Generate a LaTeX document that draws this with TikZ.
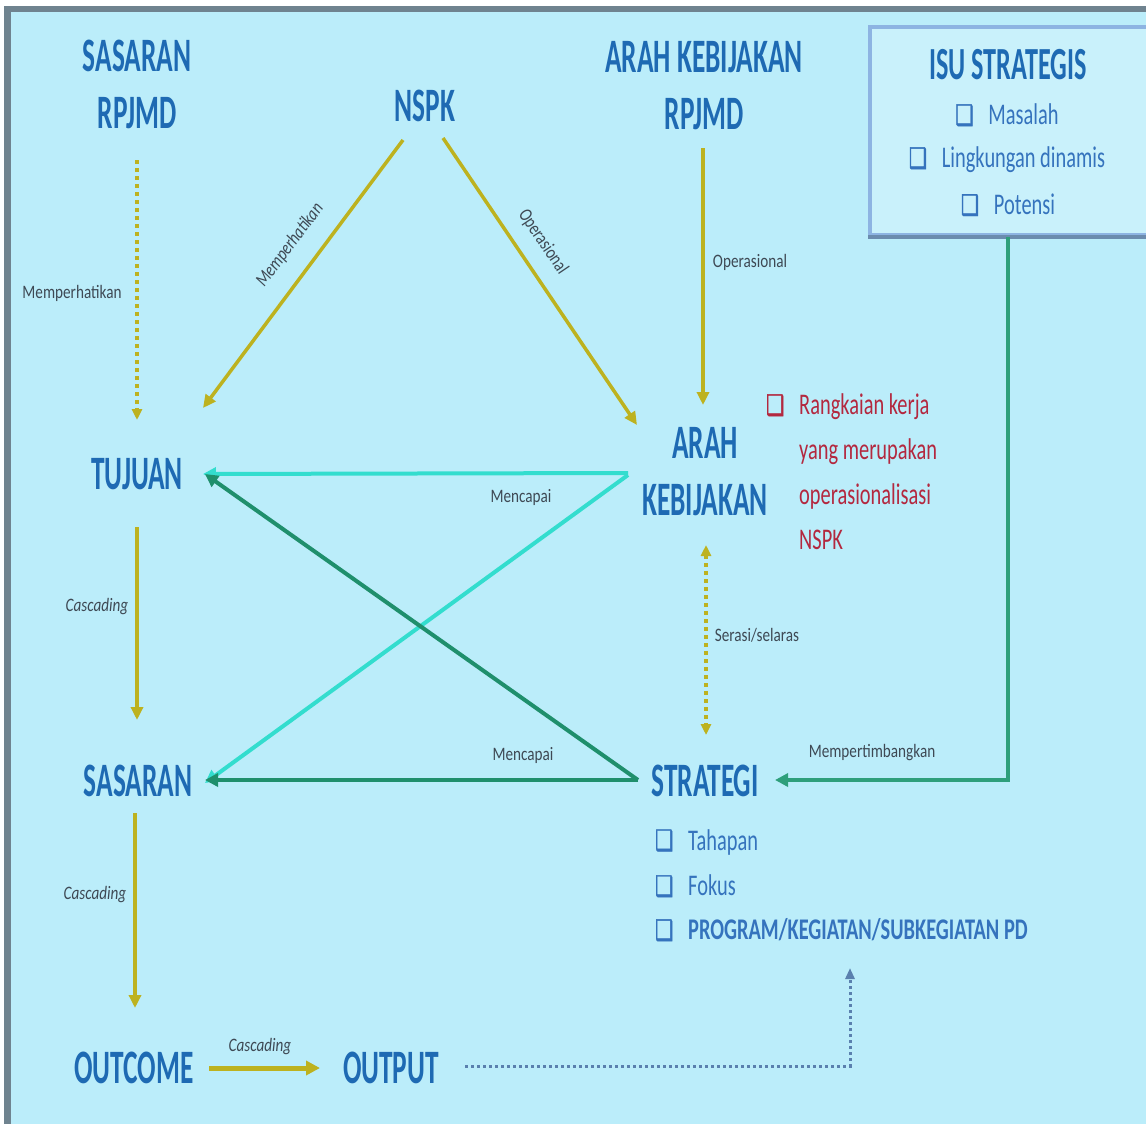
\documentclass[tikz,border=0pt]{standalone}
\usepackage{fontspec}
\usepackage{xcolor}
\usepackage{tikz}
\usetikzlibrary{arrows.meta}
\newfontfamily\titlefont{Carlito}[FakeStretch=0.57]
\newfontfamily\bodyfont{Carlito}[FakeStretch=0.68]
\newfontfamily\smallfont{Carlito}[FakeStretch=0.8]
\newfontfamily\symfont{DejaVu Sans}[FakeStretch=0.72,FakeBold=1.6]
\definecolor{bgcyan}{HTML}{BBEDFA}
\definecolor{framegray}{HTML}{6F838F}
\definecolor{titleblue}{HTML}{1E6AB3}
\definecolor{itemblue}{HTML}{3573BD}
\definecolor{olivearr}{HTML}{BDB21F}
\definecolor{aquaarr}{HTML}{33DDCE}
\definecolor{greenarr}{HTML}{1F8F6C}
\definecolor{isugreen}{HTML}{2E9F7B}
\definecolor{lblgray}{HTML}{3E4954}
\definecolor{notered}{HTML}{B3283F}
\definecolor{dotblue}{HTML}{5A80AE}
\definecolor{isuedge}{HTML}{8DB4E2}
\definecolor{isushade}{HTML}{6B8CAE}
\newcommand{\chk}{\makebox[33pt][l]{\symfont\fontsize{28}{28}\selectfont\char"2751}}
\tikzset{
  title/.style={text=titleblue, font=\titlefont\bfseries\fontsize{48}{57}\selectfont, align=center, inner sep=0pt},
  item/.style={text=itemblue, font=\bodyfont\fontsize{30}{45}\selectfont, inner sep=0pt},
  lbl/.style={text=lblgray, font=\smallfont\fontsize{19}{22}\selectfont, inner sep=0pt},
  ilbl/.style={lbl, font=\smallfont\itshape\fontsize{19}{22}\selectfont},
  oline/.style={draw=olivearr, line width=3.5pt, -{Triangle[length=13pt,width=12pt]}},
  odots/.style={draw=olivearr, line width=3.5pt, dash pattern=on 4pt off 4pt, -{Triangle[length=11pt,width=10pt]}},
  cline/.style={draw=aquaarr, line width=4pt, -{Triangle[length=13pt,width=13pt]}},
  gline/.style={draw=greenarr, line width=4pt, -{Triangle[length=13pt,width=13pt]}},
  bdots/.style={draw=dotblue, line width=3pt, dash pattern=on 3pt off 3pt, -{Triangle[length=11pt,width=9pt]}},
  isubox/.style={draw=isuedge, line width=3.5pt, fill=bgcyan!80!white, minimum width=290pt, minimum height=208pt}
}

\begin{document}
\begin{tikzpicture}[x=1pt,y=-1pt]
  \useasboundingbox (0,0) rectangle (1146,1124);
  \clip (0,0) rectangle (1146,1124);
  \fill[white] (0,0) rectangle (1146,1124);
  \fill[framegray] (4,6) rectangle (1160,1140);
  \fill[bgcyan] (11,12) rectangle (1160,1140);

  % isu strategis box
  \node[isubox] (isu) at (1015,131) {};
  \draw[isushade, line width=3.5pt] (isu.south west) -- (isu.south east);
  \node[title, font=\titlefont\bfseries\fontsize{46}{50}\selectfont] (isut) at (1008,65) {ISU STRATEGIS};
  \node[item] (masalah) at (1007,115) {\chk Masalah};
  \node[item] (lingk) at (1007,160) {\chk Lingkungan dinamis};
  \node[item] (potensi) at (1008,205) {\chk Potensi};

  % titles
  \node[title] (srpjmd) at (137,84) {SASARAN\\RPJMD};
  \node[title] (nspk) at (425,106) {NSPK};
  \node[title] (akrpjmd) at (704,86) {ARAH KEBIJAKAN\\RPJMD};
  \node[title] (tujuan) at (137,474) {TUJUAN};
  \node[title] (akeb) at (705,472) {ARAH\\KEBIJAKAN};
  \node[title] (sasaran) at (138,781) {SASARAN};
  \node[title] (strategi) at (705,781) {STRATEGI};
  \node[title] (outcome) at (134,1068) {OUTCOME};
  \node[title] (output) at (391,1068) {OUTPUT};

  % note and strategy items
  \node[item, text=notered, anchor=north west] (note) at (766,383) {\begin{tabular}{@{}l@{}l@{}}\chk & Rangkaian kerja\\ & yang merupakan\\ & operasionalisasi\\ & NSPK\end{tabular}};
  \node[item, anchor=west] (tahapan) at (655,842) {\chk Tahapan};
  \node[item, anchor=west] (fokus) at (655,886) {\chk Fokus};
  \node[item, anchor=west, font=\bodyfont\bfseries\fontsize{30}{45}\selectfont] (program) at (655,930) {\chk PROGRAM/KEGIATAN/SUBKEGIATAN PD};

  % connectors
  \draw[cline] ([shift={(-77,1)}]akeb.center) -- ([shift={(66,0)}]tujuan.center);
  \draw[cline] ([shift={(-77,3)}]akeb.center) -- ([shift={(67,2)}]sasaran.center);
  \draw[gline] ([shift={(-67,-1)}]strategi.center) -- ([shift={(68,0)}]tujuan.center);
  \draw[gline] ([shift={(-67,-1)}]strategi.center) -- ([shift={(67,-1)}]sasaran.center);
  \draw[gline, draw=isugreen] ([xshift=-7pt]isu.south) |- ([shift={(70,-1)}]strategi.center);
  \draw[odots] ([shift={(0,76)}]srpjmd.center) -- ([shift={(0,-54)}]tujuan.center);
  \draw[oline] ([shift={(-22,34)}]nspk.center) -- ([shift={(66,-66)}]tujuan.center);
  \draw[oline] ([shift={(18,32)}]nspk.center) -- ([shift={(-68,-47)}]akeb.center);
  \draw[oline] ([shift={(-1,62)}]akrpjmd.center) -- ([shift={(-2,-67)}]akeb.center);
  \draw[odots, {Triangle[length=11pt,width=10pt]}-{Triangle[length=11pt,width=10pt]}] ([shift={(1,73)}]akeb.center) -- ([shift={(1,-46)}]strategi.center);
  \draw[oline] ([shift={(0,53)}]tujuan.center) -- ([shift={(-1,-61)}]sasaran.center);
  \draw[oline] ([shift={(-3,32)}]sasaran.center) -- ([shift={(1,-60)}]outcome.center);
  \draw[oline, line width=5pt, -{Triangle[length=14pt,width=14pt]}] ([shift={(75,0)}]outcome.center) -- ([shift={(-71,0)}]output.center);
  \draw[bdots] ([shift={(74,-2)}]output.center) -| ([shift={(195,38)}]program.west);

  % connector labels
  \node[lbl] (lmemp) at (72,293) {Memperhatikan};
  \node[ilbl, rotate=53] (lmemp2) at (290,245) {Memperhatikan};
  \node[lbl, rotate=-56] (lops1) at (543,242) {Operasional};
  \node[lbl] (lops2) at (750,262) {Operasional};
  \node[lbl] (lcap1) at (521,497) {Mencapai};
  \node[lbl] (lcap2) at (523,755) {Mencapai};
  \node[lbl] (lseras) at (757,635) {Serasi/selaras};
  \node[lbl] (lpert) at (872,753) {Mempertimbangkan};
  \node[ilbl] (lcas1) at (97,607) {Cascading};
  \node[ilbl] (lcas2) at (95,895) {Cascading};
  \node[ilbl] (lcas3) at (260,1047) {Cascading};
\end{tikzpicture}
\end{document}
